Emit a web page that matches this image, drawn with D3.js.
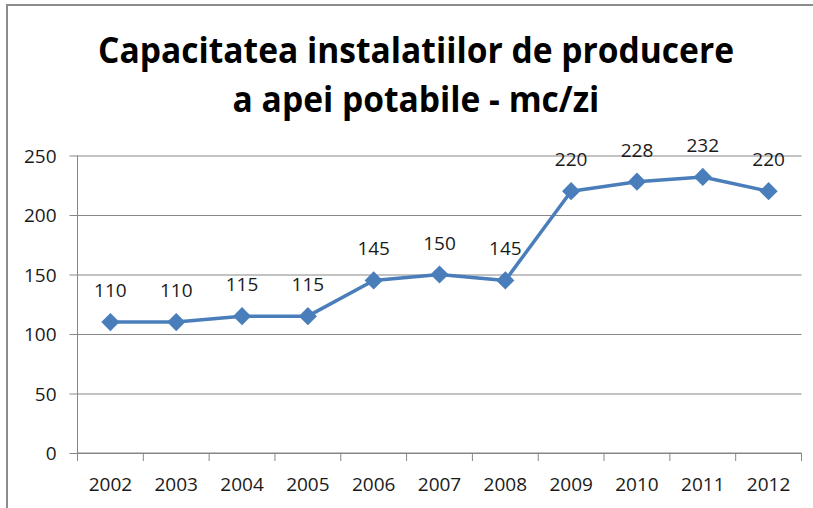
<!DOCTYPE html>
<html>
<head>
<meta charset="utf-8">
<script src="https://cdn.jsdelivr.net/npm/d3@7"></script>
<style>
  html, body { margin: 0; padding: 0; background: #fff; }
  svg { display: block; }
</style>
</head>
<body>
<div id="chart"></div>
<script>
// date
const years = ["2002", "2003", "2004", "2005", "2006", "2007", "2008", "2009", "2010", "2011", "2012"];
const capacity = [110, 110, 115, 115, 145, 150, 145, 220, 228, 232, 220];
const yTicks = [0, 50, 100, 150, 200, 250];
const titleLines = ["Capacitatea instalatiilor de producere", "a apei potabile - mc/zi"];

const W = 813, H = 508;
const plot = { left: 77.5, right: 801.5, top: 155.5, bottom: 453 };
const lineColor = "#4a7ebb";
const gridColor = "#878787";
const font = "'Open Sans', 'Liberation Sans', sans-serif";

const svg = d3.select("#chart")
    .append("svg")
    .attr("width", W)
    .attr("height", H);

// chenar exterior (doar sus si stanga se vad)
svg.append("line")
    .attr("x1", 6).attr("x2", W).attr("y1", 5).attr("y2", 5)
    .attr("stroke", "#8c8c8c").attr("stroke-width", 2);
svg.append("line")
    .attr("x1", 7).attr("x2", 7).attr("y1", 4).attr("y2", H)
    .attr("stroke", "#8c8c8c").attr("stroke-width", 2);

// titlu
const titleG = svg.append("g")
    .attr("font-family", font)
    .attr("font-weight", 700)
    .attr("font-size", 35)
    .attr("fill", "#000")
    .attr("text-anchor", "middle");

const titleEls = titleG.selectAll("text")
    .data(titleLines)
    .enter()
    .append("text")
    .attr("x", 416)
    .attr("y", (d, i) => 63 + i * 49)
    .text(d => d);

// comprimam pe orizontala ca sa semene cu Calibri
const w0 = titleEls.nodes()[0].getComputedTextLength();
const k = 636 / w0;
titleEls.each(function () {
    const w = this.getComputedTextLength();
    d3.select(this)
        .attr("textLength", w * k)
        .attr("lengthAdjust", "spacingAndGlyphs");
});

const x = d3.scaleBand()
    .domain(years)
    .range([plot.left, plot.right])
    .padding(0);

const y = d3.scaleLinear()
    .domain([0, 250])
    .range([plot.bottom, plot.top]);

// grila + axa Y
const yAxis = svg.append("g")
    .attr("transform", `translate(${plot.left},0)`)
    .call(d3.axisLeft(y)
        .tickValues(yTicks)
        .tickSize(plot.left - plot.right)
        .tickSizeOuter(0)
        .tickPadding(0));

yAxis.select(".domain").remove();
yAxis.selectAll(".tick line")
    .attr("x1", -8)
    .attr("stroke", gridColor);
yAxis.selectAll(".tick text")
    .attr("x", -21)
    .attr("dy", "0.35em")
    .attr("font-family", font)
    .attr("font-size", 19)
    .attr("fill", "#1a1a1a");

svg.append("line")
    .attr("x1", plot.left).attr("x2", plot.left)
    .attr("y1", plot.top).attr("y2", plot.bottom)
    .attr("stroke", gridColor);

// axa X: gradatii intre categorii
const xAxis = svg.append("g")
    .attr("transform", `translate(0,${plot.bottom})`)
    .call(d3.axisBottom(x).tickSize(0).tickPadding(0));

xAxis.select(".domain")
    .attr("stroke", gridColor)
    .attr("d", `M${plot.left},0H${plot.right}`);
xAxis.selectAll(".tick text")
    .attr("y", 38)
    .attr("dy", 0)
    .attr("font-family", font)
    .attr("font-size", 19)
    .attr("fill", "#1a1a1a");

const edges = years.map(d => x(d)).concat([x(years[years.length - 1]) + x.bandwidth()]);
svg.append("g")
    .selectAll("line")
    .data(edges)
    .enter()
    .append("line")
    .attr("x1", d => d).attr("x2", d => d)
    .attr("y1", plot.bottom).attr("y2", plot.bottom + 8)
    .attr("stroke", gridColor);

// linia seriei
const pts = years.map((d, i) => ({ year: d, value: capacity[i] }));
const cx = d => x(d.year) + x.bandwidth() / 2;

svg.append("path")
    .datum(pts)
    .attr("fill", "none")
    .attr("stroke", lineColor)
    .attr("stroke-width", 3.5)
    .attr("stroke-linejoin", "round")
    .attr("d", d3.line().x(cx).y(d => y(d.value)));

// markere romb
svg.append("g")
    .selectAll("path")
    .data(pts)
    .enter()
    .append("path")
    .attr("d", d3.symbol(d3.symbolSquare, 165))
    .attr("transform", d => `translate(${cx(d)},${y(d.value)}) rotate(45)`)
    .attr("fill", lineColor);

// etichete valori
svg.append("g")
    .selectAll("text")
    .data(pts)
    .enter()
    .append("text")
    .attr("x", cx)
    .attr("y", d => y(d.value) - 25)
    .attr("text-anchor", "middle")
    .attr("font-family", font)
    .attr("font-size", 19)
    .attr("fill", "#1a1a1a")
    .text(d => d.value);
</script>
</body>
</html>
